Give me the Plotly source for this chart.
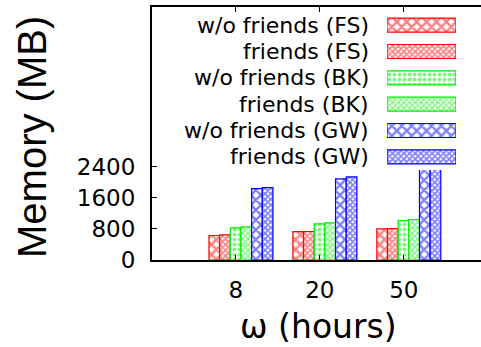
import plotly.graph_objects as go

# ---- data ----
categories = ["8", "20", "50"]
series_names = ["w/o friends (FS)", "friends (FS)", "w/o friends (BK)",
                "friends (BK)", "w/o friends (GW)", "friends (GW)"]
wo_fs = [630, 730, 800]
fr_fs = [645, 732, 805]
wo_bk = [826, 929, 1014]
fr_bk = [851, 955, 1040]
wo_gw = [1832, 2082, 2390]
fr_gw = [1858, 2134, 2420]
y_ticks = [0, 800, 1600, 2400]

series_values = [wo_fs, fr_fs, wo_bk, fr_bk, wo_gw, fr_gw]

# ---- styles ----
colors = ["#ff0000", "#ff0000", "#00ee00", "#00ee00", "#0000ff", "#0000ff"]
patterns = [
    dict(shape="x", size=7, solidity=0.55),
    dict(shape="x", size=4, solidity=0.65),
    dict(shape=".", size=5, solidity=0.5),
    dict(shape="x", size=4, solidity=0.6),
    dict(shape="x", size=7, solidity=0.55),
    dict(shape="x", size=4, solidity=0.65),
]
bar_w = 0.127
group_start = -0.321

W, H = 481, 347
L, R, T, B = 152, 0, 7, 87
plot_w = W - L - R
plot_h = H - T - B

def px_x(p):
    return (p - L) / plot_w

def px_y(p):
    return (H - B - p) / plot_h

fig = go.Figure()
xpos = list(range(len(categories)))
for k, (name, vals) in enumerate(zip(series_names, series_values)):
    fig.add_trace(go.Bar(
        x=xpos, y=vals, name=name, width=bar_w,
        offset=group_start + k * bar_w,
        marker=dict(color="white", line=dict(color=colors[k], width=1.2),
                    pattern=dict(fgcolor=colors[k], bgcolor="white",
                                 fillmode="overlay", **patterns[k])),
        showlegend=False,
    ))

# legend key (gnuplot style: right-aligned text, sample box on the right)
for k, name in enumerate(series_names):
    fig.add_trace(go.Bar(
        x=[1], y=[k], orientation="h", width=0.53, base=0,
        xaxis="x2", yaxis="y2", showlegend=False, hoverinfo="skip",
        marker=dict(color="white", line=dict(color=colors[k], width=1.2),
                    pattern=dict(fgcolor=colors[k], bgcolor="white",
                                 fillmode="overlay", **patterns[k])),
    ))
    fig.add_annotation(text=name, xref="paper", yref="y2", x=px_x(371), y=k,
                       xanchor="right", yanchor="middle", showarrow=False,
                       font=dict(family="DejaVu Sans", size=22, color="black"))

fig.add_annotation(text="Memory (MB)", xref="paper", yref="paper",
                   x=px_x(32), y=px_y(137), textangle=-90, showarrow=False,
                   xanchor="center", yanchor="middle",
                   font=dict(family="Liberation Sans", size=40, color="black"))
fig.add_annotation(text="ω (hours)", xref="paper", yref="paper",
                   x=px_x(318), y=px_y(326), showarrow=False,
                   xanchor="center", yanchor="middle",
                   font=dict(family="DejaVu Sans", size=33, color="black"))

fig.update_layout(
    width=W, height=H, autosize=False,
    margin=dict(l=L, r=R, t=T, b=B, pad=0, autoexpand=False),
    plot_bgcolor="white", paper_bgcolor="white",
    barmode="overlay",
    font=dict(family="DejaVu Sans", size=23, color="black"),
    xaxis=dict(range=[-1, 2.92], tickvals=xpos, ticktext=categories,
               showline=True, linecolor="black", linewidth=2, mirror="ticks",
               ticks="inside", ticklen=5, tickwidth=1, tickcolor="black",
               showgrid=False, zeroline=False, ticklabelstandoff=8,
               automargin=False,
               tickfont=dict(family="DejaVu Sans", size=23)),
    yaxis=dict(range=[0, 6500], tickvals=y_ticks,
               showline=True, linecolor="black", linewidth=2,
               ticks="inside", ticklen=5, tickwidth=1, tickcolor="black",
               showgrid=False, zeroline=False, ticklabelstandoff=10,
               automargin=False,
               tickfont=dict(family="DejaVu Sans", size=23)),
    xaxis2=dict(domain=[px_x(387), px_x(456)], range=[0, 1], anchor="y2",
                visible=False, fixedrange=True, automargin=False),
    yaxis2=dict(domain=[px_y(170), px_y(12)], range=[5.5, -0.5], anchor="x2",
                visible=False, fixedrange=True, automargin=False),
)

fig.write_html("out.html", config={"displayModeBar": False},
               post_script="document.body.style.margin='0';document.body.style.overflow='hidden';")
